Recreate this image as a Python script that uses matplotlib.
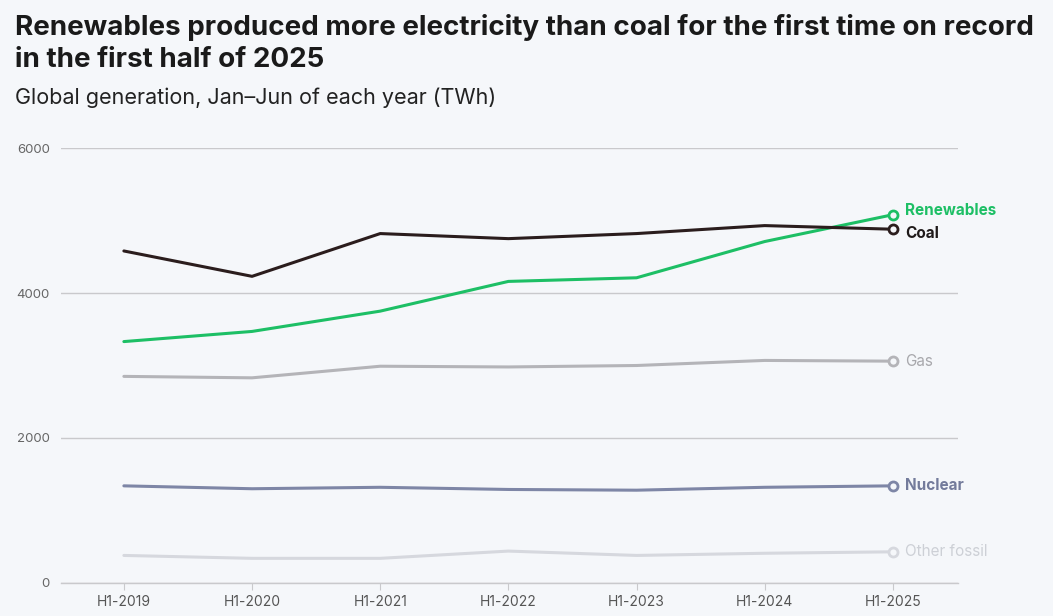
import matplotlib.pyplot as plt

# H1 global generation (TWh)
periods = ["H1-2019", "H1-2020", "H1-2021", "H1-2022", "H1-2023", "H1-2024", "H1-2025"]
coal = [4580, 4230, 4820, 4750, 4820, 4930, 4880]
renewables = [3330, 3470, 3750, 4160, 4210, 4710, 5080]
gas = [2850, 2830, 2990, 2980, 3000, 3070, 3060]
nuclear = [1340, 1300, 1320, 1290, 1280, 1320, 1340]
other_fossil = [380, 340, 340, 440, 380, 410, 430]

series = [
    ("Renewables", renewables, "#1dbf65", "#1dbf65", "bold", 3),
    ("Coal", coal, "#2b1d1d", "#1f1a1a", "bold", -3),
    ("Gas", gas, "#b4b4b8", "#a8a8ac", "normal", 0),
    ("Nuclear", nuclear, "#7e86a6", "#737b9b", "bold", 0),
    ("Other fossil", other_fossil, "#d6d8de", "#cdd0d6", "normal", 0),
]

BG = "#f5f7fa"
plt.rcParams["font.family"] = ["Inter", "DejaVu Sans"]

fig = plt.figure(figsize=(10.53, 6.16), dpi=100, facecolor=BG)
ax = fig.add_axes([0.058, 0.0536, 0.852, 0.7061], facecolor=BG)

x = list(range(len(periods)))
for name, vals, color, tcolor, weight, dy in series:
    ax.plot(x, vals, color=color, linewidth=2.2, solid_capstyle="round", zorder=3)
    ax.plot(x[-1], vals[-1], marker="o", markersize=6.5, markerfacecolor=BG,
            markeredgecolor=color, markeredgewidth=2, zorder=4)
    ax.annotate(name, (x[-1], vals[-1]), xytext=(9, dy), textcoords="offset points",
                color=tcolor, fontsize=11, fontweight=weight, va="center", ha="left",
                annotation_clip=False)

ax.set_xlim(-0.49, 6.51)
ax.set_ylim(0, 6000)
ax.set_yticks([0, 2000, 4000, 6000])
ax.set_xticks(x)
ax.set_xticklabels(periods)
ax.grid(True, axis="y", color="#c9c9cc", linewidth=1)
ax.set_axisbelow(True)
for side in ["top", "right", "left"]:
    ax.spines[side].set_visible(False)
ax.spines["bottom"].set_color("#c9c9cc")
ax.spines["bottom"].set_linewidth(1)
ax.tick_params(axis="y", length=0, pad=8, labelsize=9.5, labelcolor="#666666")
ax.tick_params(axis="x", length=5, color="#c9c9cc", pad=4, labelsize=10, labelcolor="#555555")

fig.text(0.014, 0.978, "Renewables produced more electricity than coal for the first time on record\nin the first half of 2025",
         fontsize=20, fontweight="bold", color="#1a1a1a", va="top", ha="left", linespacing=1.3)
fig.text(0.014, 0.841, "Global generation, Jan\u2013Jun of each year (TWh)",
         fontsize=15.5, color="#222222", va="center", ha="left")

fig.savefig("out.png", dpi=100, facecolor=BG)
